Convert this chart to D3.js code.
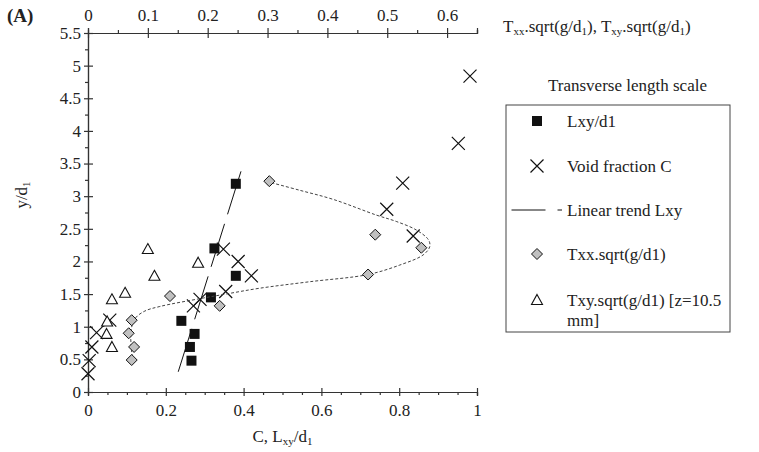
<!DOCTYPE html>
<html lang="en">
<head>
<meta charset="UTF-8">
<title>Transverse length scale</title>
<script src="https://cdn.jsdelivr.net/npm/d3@7"></script>
<style>
  body { margin: 0; background: #fff; }
  text { font-family: "Liberation Serif", "Times New Roman", serif; fill: #222; }
</style>
</head>
<body>
<script>
// values (y = y/d1)
var lxyY   = [3.19, 2.20, 1.78, 1.45, 1.09, 0.89, 0.69, 0.48];
var lxyX   = [0.380, 0.325, 0.380, 0.316, 0.240, 0.274, 0.262, 0.266];

var voidY  = [4.84, 3.81, 3.20, 2.80, 2.39, 2.19, 2.00, 1.78, 1.54, 1.42, 1.32, 1.10, 0.91, 0.69, 0.48, 0.28];
var voidC  = [0.982, 0.952, 0.809, 0.768, 0.836, 0.348, 0.386, 0.420, 0.354, 0.288, 0.271, 0.056, 0.022, 0.010, 0.003, 0.000];

var trendY = [0.31, 3.49];
var trendX = [0.232, 0.399];

var txxY   = [3.23, 2.41, 2.21, 1.80, 1.47, 1.32, 1.10, 0.90, 0.69, 0.49];
var txxT   = [0.303, 0.480, 0.557, 0.468, 0.137, 0.220, 0.073, 0.068, 0.077, 0.073];

var txyY   = [2.19, 1.98, 1.78, 1.52, 1.42, 1.08, 0.89, 0.69];
var txyT   = [0.100, 0.184, 0.111, 0.062, 0.040, 0.032, 0.031, 0.040];

// dotted fit through Txx
var fitY   = [0.46, 0.72, 0.95, 1.13, 1.24, 1.31, 1.43, 1.50, 1.59, 1.69, 1.80, 1.945, 2.10, 2.225, 2.33, 2.48, 2.61, 2.71, 2.95, 3.09, 3.205];
var fitT   = [0.075, 0.072, 0.072, 0.079, 0.095, 0.120, 0.187, 0.230, 0.287, 0.371, 0.468, 0.521, 0.560, 0.571, 0.569, 0.549, 0.516, 0.482, 0.410, 0.354, 0.307];

var bottomTicks = [0, 0.2, 0.4, 0.6, 0.8, 1];
var topTicks    = [0, 0.1, 0.2, 0.3, 0.4, 0.5, 0.6];
var yTicks      = [0, 0.5, 1, 1.5, 2, 2.5, 3, 3.5, 4, 4.5, 5, 5.5];

function drawChart() {
    var W = 759, H = 452;
    var svg = d3.select("body").append("svg").attr("width", W).attr("height", H);

    //plot area
    var pad = {left: 88, right: 477, top: 33, bottom: 392};
    var fs = "17px", subFs = "11px";

    var scaleX = d3.scaleLinear().domain([0, 1]).range([pad.left, pad.right]);
    var scaleT = d3.scaleLinear().domain([0, 0.65]).range([pad.left, pad.right]);
    var scaleY = d3.scaleLinear().domain([0, 5.5]).range([pad.bottom, pad.top]);

    var axisColor = "#333";

    function minors(step, max, majors) {
        return d3.range(0, max + 1e-9, step).filter(function (v) {
            return !majors.some(function (m) { return Math.abs(m - v) < 1e-9; });
        });
    }

    function styleAxis(g) {
        g.selectAll("path").attr("stroke", axisColor).attr("stroke-width", 1.2);
        g.selectAll("line").attr("stroke", axisColor).attr("stroke-width", 1.2);
        g.selectAll("text").attr("font-family", "Liberation Serif, Times New Roman, serif")
            .attr("font-size", fs).attr("fill", "#222");
    }

    //bottom axis
    svg.append("g").attr("transform", "translate(0," + pad.bottom + ")")
        .call(d3.axisBottom(scaleX).tickValues(minors(0.05, 1, bottomTicks)).tickSize(3).tickFormat(""))
        .call(styleAxis);
    var gb = svg.append("g").attr("transform", "translate(0," + pad.bottom + ")")
        .call(d3.axisBottom(scaleX).tickValues(bottomTicks).tickSize(4).tickPadding(8).tickFormat(d3.format("")))
        .call(styleAxis);
    gb.selectAll(".tick line").attr("y1", -4).attr("y2", 4);

    //top axis
    svg.append("g").attr("transform", "translate(0," + pad.top + ")")
        .call(d3.axisTop(scaleT).tickValues(minors(0.05, 0.65, topTicks)).tickSize(3).tickFormat(""))
        .call(styleAxis);
    var gt = svg.append("g").attr("transform", "translate(0," + pad.top + ")")
        .call(d3.axisTop(scaleT).tickValues(topTicks).tickSize(5).tickPadding(7).tickFormat(d3.format("")))
        .call(styleAxis);
    gt.selectAll(".tick line").attr("y1", -5).attr("y2", 5);

    //left axis
    svg.append("g").attr("transform", "translate(" + pad.left + ",0)")
        .call(d3.axisLeft(scaleY).tickValues(minors(0.25, 5.5, yTicks)).tickSize(3).tickFormat(""))
        .call(styleAxis);
    var gl = svg.append("g").attr("transform", "translate(" + pad.left + ",0)")
        .call(d3.axisLeft(scaleY).tickValues(yTicks).tickSize(4).tickPadding(3).tickFormat(d3.format("")))
        .call(styleAxis);
    gl.selectAll(".tick line").attr("x1", -4).attr("x2", 5);

    //markers
    var xPath = "M-6.5,-6.5L6.5,6.5M-6.5,6.5L6.5,-6.5";
    var diaPath = "M0,-5.5L5.5,0L0,5.5L-5.5,0Z";
    var triPath = "M0,-5.5L5.5,4.5L-5.5,4.5Z";

    svg.selectAll(".sq").data(d3.range(lxyY.length)).enter().append("rect")
        .attr("x", function (i) { return scaleX(lxyX[i]) - 5; })
        .attr("y", function (i) { return scaleY(lxyY[i]) - 5; })
        .attr("width", 10).attr("height", 10).attr("fill", "#111");

    svg.selectAll(".vx").data(d3.range(voidY.length)).enter().append("path")
        .attr("d", xPath)
        .attr("transform", function (i) { return "translate(" + scaleX(voidC[i]) + "," + scaleY(voidY[i]) + ")"; })
        .attr("stroke", "#111").attr("stroke-width", 1.2).attr("fill", "none");

    svg.append("path")
        .attr("d", d3.line().x(function (i) { return scaleX(trendX[i]); }).y(function (i) { return scaleY(trendY[i]); })(d3.range(trendY.length)))
        .attr("stroke", "#111").attr("stroke-width", 1).attr("fill", "none")
        .attr("stroke-dasharray", "45,10");

    svg.append("path")
        .attr("d", d3.line().curve(d3.curveCatmullRom)
            .x(function (i) { return scaleT(fitT[i]); })
            .y(function (i) { return scaleY(fitY[i]); })(d3.range(fitY.length)))
        .attr("stroke", "#444").attr("stroke-width", 1).attr("fill", "none")
        .attr("stroke-dasharray", "3,2");

    svg.selectAll(".dia").data(d3.range(txxY.length)).enter().append("path")
        .attr("d", diaPath)
        .attr("transform", function (i) { return "translate(" + scaleT(txxT[i]) + "," + scaleY(txxY[i]) + ")"; })
        .attr("fill", "#c0c0c0").attr("stroke", "#111").attr("stroke-width", 1);

    svg.selectAll(".tri").data(d3.range(txyY.length)).enter().append("path")
        .attr("d", triPath)
        .attr("transform", function (i) { return "translate(" + scaleT(txyT[i]) + "," + scaleY(txyY[i]) + ")"; })
        .attr("fill", "#fff").attr("stroke", "#111").attr("stroke-width", 1.1);

    //titles
    svg.append("text").attr("x", 7).attr("y", 22).attr("font-size", "19px").attr("font-weight", "bold").text("(A)");

    var tt = svg.append("text").attr("x", 503).attr("y", 32).attr("font-size", fs);
    tt.append("tspan").text("T");
    tt.append("tspan").attr("font-size", subFs).attr("dy", 3).text("xx");
    tt.append("tspan").attr("dy", -3).text(".sqrt(g/d");
    tt.append("tspan").attr("font-size", subFs).attr("dy", 3).text("1");
    tt.append("tspan").attr("dy", -3).text("), T");
    tt.append("tspan").attr("font-size", subFs).attr("dy", 3).text("xy");
    tt.append("tspan").attr("dy", -3).text(".sqrt(g/d");
    tt.append("tspan").attr("font-size", subFs).attr("dy", 3).text("1");
    tt.append("tspan").attr("dy", -3).text(")");

    var xt = svg.append("text").attr("x", (pad.left + pad.right) / 2).attr("y", 442).attr("text-anchor", "middle").attr("font-size", fs);
    xt.append("tspan").text("C, L");
    xt.append("tspan").attr("font-size", subFs).attr("dy", 3).text("xy");
    xt.append("tspan").attr("dy", -3).text("/d");
    xt.append("tspan").attr("font-size", subFs).attr("dy", 3).text("1");

    var yt = svg.append("text").attr("transform", "translate(27,195) rotate(-90)").attr("text-anchor", "middle").attr("font-size", fs);
    yt.append("tspan").text("y/d");
    yt.append("tspan").attr("font-size", subFs).attr("dy", 3).text("1");

    //legend
    svg.append("text").attr("x", 548).attr("y", 91).attr("font-size", fs).text("Transverse length scale");
    svg.append("rect").attr("x", 506).attr("y", 105).attr("width", 224).attr("height", 227)
        .attr("fill", "none").attr("stroke", "#444").attr("stroke-width", 1);

    var lgX = 537, lgText = 567;
    svg.append("rect").attr("x", lgX - 5).attr("y", 121 - 5).attr("width", 10).attr("height", 10).attr("fill", "#111");
    svg.append("path").attr("d", xPath).attr("transform", "translate(" + lgX + ",166)")
        .attr("stroke", "#111").attr("stroke-width", 1.2).attr("fill", "none");
    svg.append("line").attr("x1", 511.5).attr("x2", 562).attr("y1", 210).attr("y2", 210)
        .attr("stroke", "#111").attr("stroke-width", 1).attr("stroke-dasharray", "34,12");
    svg.append("path").attr("d", diaPath).attr("transform", "translate(" + lgX + ",254)")
        .attr("fill", "#c0c0c0").attr("stroke", "#111").attr("stroke-width", 1);
    svg.append("path").attr("d", triPath).attr("transform", "translate(" + lgX + ",300)")
        .attr("fill", "#fff").attr("stroke", "#111").attr("stroke-width", 1.1);

    var legendLabels = ["Lxy/d1", "Void fraction C", "Linear trend Lxy", "Txx.sqrt(g/d1)", "Txy.sqrt(g/d1) [z=10.5"];
    var legendRows = [121, 166, 210, 254, 300];
    svg.selectAll(".lg").data(legendLabels).enter().append("text")
        .attr("x", lgText).attr("y", function (d, i) { return legendRows[i] + 5.5; })
        .attr("font-size", fs).text(function (d) { return d; });
    svg.append("text").attr("x", lgText).attr("y", 326).attr("font-size", fs).text("mm]");
}

drawChart();
</script>
</body>
</html>
